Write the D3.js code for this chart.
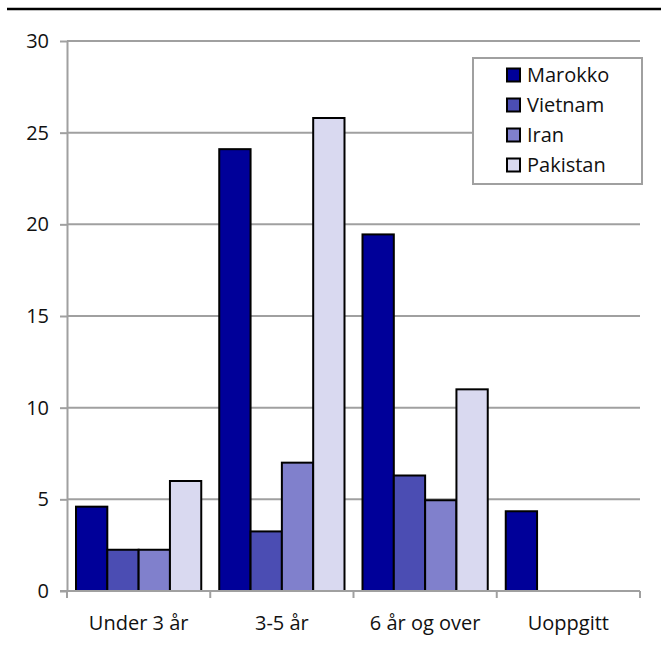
<!DOCTYPE html>
<html>
<head>
<meta charset="utf-8">
<script src="https://cdn.jsdelivr.net/npm/d3@7"></script>
<style>
  body { margin: 0; background: #fff; }
  svg { display: block; font-family: "Open Sans", "Noto Sans", sans-serif; }
</style>
</head>
<body>
<svg id="chart" width="661" height="648"></svg>
<script>
const categories = ['Under 3 år', '3-5 år', '6 år og over', 'Uoppgitt'];
const seriesNames = ['Marokko', 'Vietnam', 'Iran', 'Pakistan'];
const marokko = [4.6, 24.1, 19.45, 4.35];
const vietnam = [2.25, 3.25, 6.3, null];
const iran = [2.25, 7.0, 4.95, null];
const pakistan = [6.0, 25.8, 11.0, null];
const yTicks = [0, 5, 10, 15, 20, 25, 30];
const colors = ['#000099', '#4b4db3', '#8080cc', '#d9d9f0'];

const seriesValues = [marokko, vietnam, iran, pakistan];

const svg = d3.select('#chart');
const plotLeft = 67, plotRight = 640, plotTop = 41, plotBottom = 591;
const labelFont = '"Open Sans", sans-serif';

// top rule
svg.append('line')
  .attr('x1', 7).attr('x2', 661)
  .attr('y1', 9).attr('y2', 9)
  .attr('stroke', '#000').attr('stroke-width', 2.5);

const y = d3.scaleLinear().domain([0, 30]).range([plotBottom, plotTop]);
const x0 = d3.scaleBand().domain(categories).range([plotLeft, plotRight]).padding(0);
const x1 = d3.scaleBand().domain(seriesNames).range([9, x0.bandwidth() - 9]).padding(0);

// gridlines
svg.append('g')
  .selectAll('line')
  .data(yTicks.filter(t => t > 0))
  .join('line')
  .attr('x1', plotLeft).attr('x2', plotRight)
  .attr('y1', d => y(d)).attr('y2', d => y(d))
  .attr('stroke', '#a0a0a0').attr('stroke-width', 2);

// y axis
const yAxis = d3.axisLeft(y).tickValues(yTicks).tickSize(7).tickPadding(11).tickSizeOuter(0);
const yG = svg.append('g').attr('transform', `translate(${plotLeft},0)`).call(yAxis);
yG.select('.domain').attr('stroke', '#a0a0a0').attr('stroke-width', 2);
yG.selectAll('.tick line').attr('stroke', '#a0a0a0').attr('stroke-width', 2);
yG.selectAll('text').attr('font-size', 20).attr('fill', '#111').attr('font-family', labelFont);

// bars
const rows = [];
categories.forEach((c, i) => {
  seriesNames.forEach((s, j) => {
    const v = seriesValues[j][i];
    if (v != null) rows.push({ cat: c, series: s, value: v, color: colors[j] });
  });
});

svg.append('g')
  .selectAll('rect')
  .data(rows)
  .join('rect')
  .attr('x', d => x0(d.cat) + x1(d.series))
  .attr('y', d => y(d.value))
  .attr('width', x1.bandwidth())
  .attr('height', d => y(0) - y(d.value))
  .attr('fill', d => d.color)
  .attr('stroke', '#000')
  .attr('stroke-width', 2);

// x axis
const xAxis = d3.axisBottom(x0).tickSize(0).tickPadding(25);
const xG = svg.append('g').attr('transform', `translate(0,${plotBottom})`).call(xAxis);
xG.select('.domain').remove();
xG.selectAll('text').attr('font-size', 20).attr('fill', '#111').attr('font-family', labelFont);
svg.append('line')
  .attr('x1', plotLeft - 7).attr('x2', plotRight)
  .attr('y1', plotBottom).attr('y2', plotBottom)
  .attr('stroke', '#a0a0a0').attr('stroke-width', 2);
const boundaries = categories.map(c => x0(c)).concat([plotRight]);
svg.append('g')
  .selectAll('line')
  .data(boundaries)
  .join('line')
  .attr('x1', d => d).attr('x2', d => d)
  .attr('y1', plotBottom).attr('y2', plotBottom + 7)
  .attr('stroke', '#a0a0a0').attr('stroke-width', 2);

// legend
const legend = svg.append('g');
legend.append('rect')
  .attr('x', 473).attr('y', 58)
  .attr('width', 169).attr('height', 126)
  .attr('fill', '#fff')
  .attr('stroke', '#a0a0a0').attr('stroke-width', 2);
const items = legend.selectAll('g.item')
  .data(seriesNames)
  .join('g')
  .attr('class', 'item')
  .attr('transform', (d, i) => `translate(507,${75 + i * 30})`);
items.append('rect')
  .attr('x', 0).attr('y', -6.5)
  .attr('width', 13).attr('height', 13)
  .attr('fill', (d, i) => colors[i])
  .attr('stroke', '#000').attr('stroke-width', 2);
items.append('text')
  .attr('x', 20).attr('y', 0)
  .attr('dy', '0.35em')
  .attr('font-size', 20)
  .attr('font-family', labelFont)
  .attr('fill', '#111')
  .text(d => d);
</script>
</body>
</html>
